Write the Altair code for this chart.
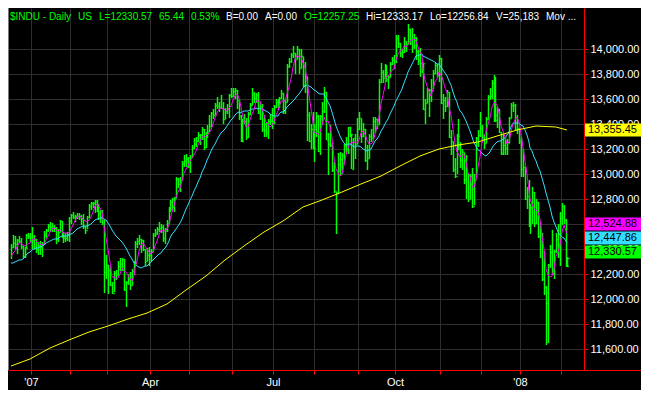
import altair as alt
import pandas as pd

# ---------------- data ----------------
# closes before the first visible bar (Nov 16 - Dec 13, 2006), used only to warm up the moving averages
warmup_close = [12305.82, 12342.56, 12316.54, 12321.59, 12326.95, 12280.17, 12121.71, 12136.45,
                12226.73, 12221.93, 12194.13, 12283.85, 12331.60, 12309.25, 12278.41, 12307.49,
                12328.48, 12315.58, 12317.50]

close_dec06 = [12416.76, 12445.52, 12441.27, 12471.32, 12463.87, 12421.25, 12343.22, 12407.63, 12510.57, 12501.52, 12463.15]
high_dec06 = [12437, 12511, 12502, 12482, 12503, 12485, 12426, 12420, 12521, 12527, 12525]
low_dec06 = [12316, 12405, 12403, 12358, 12452, 12400, 12330, 12330, 12405, 12480, 12458]

close_jan07 = [12474.52, 12480.69, 12398.01, 12423.49, 12416.60, 12442.16, 12514.98, 12556.08, 12582.59, 12577.15,
               12567.93, 12565.53, 12477.16, 12533.80, 12621.77, 12502.56, 12487.02, 12490.78, 12523.31, 12621.69]
high_jan07 = [12580, 12510, 12480, 12460, 12466, 12460, 12541, 12564, 12597, 12614, 12605, 12590, 12578, 12562, 12634, 12622, 12534, 12530, 12538, 12659]
low_jan07 = [12404, 12403, 12365, 12349, 12351, 12339, 12436, 12485, 12538, 12540, 12533, 12534, 12440, 12459, 12533, 12488, 12447, 12458, 12467, 12453]

close_feb07 = [12673.68, 12653.49, 12661.74, 12666.87, 12666.31, 12637.63, 12580.83, 12552.55, 12654.85, 12741.86,
               12765.01, 12767.57, 12786.64, 12738.41, 12686.02, 12647.48, 12632.26, 12216.24, 12268.63]
high_feb07 = [12683, 12695, 12676, 12691, 12691, 12669, 12681, 12588, 12666, 12759, 12775, 12776, 12796, 12789, 12764, 12710, 12715, 12632, 12348]
low_feb07 = [12598, 12641, 12616, 12637, 12634, 12590, 12560, 12518, 12560, 12650, 12715, 12730, 12690, 12700, 12631, 12605, 12590, 12050, 12157]

close_mar07 = [12234.34, 12114.10, 12050.41, 12207.59, 12192.45, 12260.70, 12276.32, 12318.62, 12075.96, 12133.40, 12159.68,
               12110.41, 12226.17, 12288.10, 12447.52, 12461.14, 12481.01, 12469.07, 12397.29, 12300.36, 12348.75, 12354.35]
high_mar07 = [12268, 12260, 12135, 12225, 12233, 12300, 12330, 12330, 12318, 12145, 12200, 12215, 12240, 12300, 12461, 12490, 12510, 12481, 12470, 12397, 12410, 12420]
low_mar07 = [12039, 12100, 12039, 12052, 12149, 12193, 12220, 12220, 12065, 11939, 12110, 12075, 12111, 12195, 12264, 12410, 12435, 12370, 12385, 12265, 12300, 12260]

close_apr07 = [12382.30, 12510.30, 12530.05, 12560.20, 12569.14, 12573.85, 12484.62, 12552.96, 12612.13, 12720.46,
               12773.04, 12803.84, 12808.63, 12961.98, 12919.40, 12953.94, 13089.89, 13105.50, 13120.94, 13062.91]
high_apr07 = [12400, 12530, 12563, 12575, 12615, 12600, 12590, 12570, 12630, 12735, 12790, 12812, 12815, 12979, 12970, 12980, 13105, 13150, 13160, 13140]
low_apr07 = [12300, 12380, 12495, 12510, 12540, 12525, 12460, 12440, 12540, 12612, 12700, 12705, 12700, 12810, 12890, 12860, 12950, 13060, 13060, 13050]

close_may07 = [13136.14, 13211.88, 13241.38, 13264.62, 13312.97, 13309.07, 13362.87, 13215.13, 13326.22, 13346.78, 13383.84,
               13487.53, 13476.72, 13556.53, 13542.88, 13539.95, 13525.65, 13441.13, 13507.28, 13521.34, 13633.08, 13627.64]
high_may07 = [13150, 13230, 13285, 13300, 13335, 13320, 13375, 13365, 13340, 13390, 13470, 13497, 13520, 13566, 13620, 13580, 13630, 13580, 13530, 13560, 13640, 13690]
low_may07 = [13010, 13136, 13200, 13220, 13260, 13230, 13270, 13195, 13210, 13290, 13340, 13380, 13440, 13470, 13520, 13500, 13520, 13400, 13440, 13480, 13450, 13610]

close_jun07 = [13668.11, 13676.32, 13595.46, 13465.67, 13266.73, 13424.39, 13424.96, 13295.01, 13482.35, 13553.73, 13639.48,
               13612.98, 13635.42, 13489.42, 13545.84, 13360.26, 13352.05, 13337.66, 13427.73, 13422.28, 13408.62]
high_jun07 = [13692, 13690, 13676, 13595, 13470, 13440, 13480, 13450, 13500, 13570, 13690, 13660, 13650, 13660, 13580, 13560, 13470, 13420, 13440, 13480, 13530]
low_jun07 = [13620, 13600, 13520, 13430, 13260, 13260, 13400, 13270, 13290, 13470, 13550, 13570, 13570, 13480, 13430, 13340, 13300, 13300, 13280, 13390, 13360]

close_jul07 = [13535.43, 13577.30, 13565.84, 13611.68, 13649.97, 13501.70, 13577.87, 13861.73, 13907.25, 13950.98, 13971.55,
               13918.22, 14000.41, 13851.08, 13943.42, 13716.95, 13785.07, 13473.57, 13265.47, 13358.31, 13211.99]
high_jul07 = [13550, 13600, 13600, 13620, 13670, 13650, 13600, 13880, 13930, 13970, 14022, 13970, 14022, 14000, 14000, 13940, 13900, 13780, 13500, 13400, 13500]
low_jul07 = [13400, 13530, 13510, 13530, 13600, 13480, 13480, 13575, 13850, 13890, 13930, 13800, 13920, 13800, 13850, 13700, 13650, 13262, 13260, 13200, 13200]

close_aug07 = [13362.37, 13463.33, 13181.91, 13468.78, 13504.30, 13657.86, 13270.68, 13239.54, 13236.53, 13028.92, 12861.47, 12845.78,
               13079.08, 13121.35, 13090.86, 13236.13, 13235.88, 13378.87, 13322.13, 13041.85, 13289.29, 13238.73, 13357.74]
high_aug07 = [13400, 13500, 13470, 13470, 13580, 13700, 13660, 13330, 13390, 13250, 13100, 12860, 13170, 13180, 13170, 13240, 13300, 13380, 13380, 13320, 13290, 13320, 13450]
low_aug07 = [13100, 13300, 13180, 13150, 13390, 13490, 13270, 12990, 13220, 13020, 12850, 12517, 12840, 12990, 13000, 13090, 13170, 13160, 13300, 13040, 13040, 13120, 13240]

close_sep07 = [13448.86, 13305.47, 13363.35, 13113.38, 13127.85, 13308.39, 13291.65, 13424.88, 13442.52, 13403.42,
               13739.39, 13815.56, 13766.70, 13820.19, 13759.06, 13778.65, 13878.15, 13912.94, 13895.63]
high_sep07 = [13500, 13440, 13410, 13360, 13230, 13320, 13360, 13460, 13460, 13440, 13760, 13890, 13830, 13880, 13870, 13790, 13900, 13940, 13950]
low_sep07 = [13350, 13250, 13300, 13100, 13030, 13130, 13260, 13290, 13330, 13360, 13400, 13730, 13730, 13770, 13740, 13680, 13780, 13870, 13840]

close_oct07 = [14087.55, 14047.31, 13968.05, 13974.31, 14066.01, 14043.73, 14164.53, 14078.69, 14015.12, 14093.08, 13984.80, 13912.94,
               13892.54, 13888.96, 13522.02, 13566.97, 13676.23, 13675.25, 13671.92, 13806.70, 13870.26, 13792.47, 13930.01]
high_oct07 = [14115, 14115, 14050, 14000, 14100, 14060, 14198, 14165, 14170, 14120, 14100, 13990, 14010, 13900, 13880, 13600, 13690, 13680, 13760, 13830, 13890, 13880, 13950]
low_oct07 = [13890, 14010, 13940, 13930, 13970, 13980, 14040, 14030, 13970, 14000, 13910, 13870, 13780, 13810, 13510, 13400, 13570, 13460, 13580, 13680, 13800, 13780, 13740]

close_nov07 = [13567.87, 13595.10, 13543.40, 13660.94, 13300.02, 13266.29, 13042.74, 12987.55, 13307.09, 13231.01, 13110.05,
               13176.79, 12958.44, 13010.14, 12799.04, 12980.88, 12743.44, 12958.44, 13289.45, 13311.73, 13371.72]
high_nov07 = [13930, 13640, 13620, 13670, 13660, 13350, 13260, 13130, 13320, 13440, 13260, 13200, 13170, 13150, 13000, 13000, 13050, 13000, 13300, 13350, 13500]
low_nov07 = [13560, 13440, 13500, 13540, 13290, 13150, 13020, 12970, 13000, 13190, 13050, 13030, 12920, 12800, 12780, 12800, 12730, 12750, 12970, 13220, 13300]

close_dec07 = [13314.57, 13248.73, 13444.96, 13619.89, 13625.58, 13727.03, 13432.77, 13473.90, 13517.96, 13339.85,
               13167.20, 13232.47, 13207.27, 13245.64, 13450.65, 13549.33, 13551.69, 13359.61, 13365.87, 13264.82]
high_dec07 = [13390, 13310, 13460, 13630, 13690, 13750, 13790, 13780, 13540, 13520, 13340, 13320, 13300, 13280, 13460, 13570, 13580, 13560, 13470, 13370]
low_dec07 = [13270, 13200, 13250, 13440, 13590, 13600, 13420, 13420, 13370, 13330, 13150, 13150, 13150, 13150, 13250, 13450, 13500, 13350, 13320, 13240]

close_jan08 = [13043.96, 13056.72, 12800.18, 12827.49, 12589.07, 12735.31, 12853.09, 12606.30, 12778.15, 12501.11, 12466.16,
               12159.21, 12099.30, 11971.19, 12270.17, 12378.61, 12207.17, 12383.89, 12480.30, 12442.83, 12650.36]
high_jan08 = [13290, 13200, 13060, 12900, 12950, 12760, 12900, 12860, 12800, 12780, 12620, 12530, 12380, 12100, 12280, 12430, 12550, 12390, 12530, 12600, 12700]
low_jan08 = [12980, 12980, 12790, 12720, 12580, 12520, 12600, 12580, 12600, 12490, 12330, 12140, 12030, 11635, 11645, 12250, 12190, 12160, 12370, 12330, 12260]

close_feb08 = [12743.19, 12635.16, 12265.13, 12330.57]
high_feb08 = [12770, 12750, 12640, 12333]
low_feb08 = [12590, 12600, 12252, 12257]

# 200-day moving average (bar index, value)
ma200_idx = [0, 10, 20, 30, 40, 50, 60, 70, 80, 90, 100, 110, 120, 130, 140, 150, 160, 170, 180, 190,
             200, 210, 220, 230, 240, 250, 260, 270, 280, 286]
ma200_val = [11462, 11523, 11604, 11669, 11738, 11784, 11838, 11888, 11960, 12068, 12183, 12313, 12428, 12535, 12627,
             12735, 12796, 12857, 12919, 12988, 13065, 13141, 13203, 13233, 13256, 13302, 13356, 13387, 13375, 13355.45]

# month tick labels (one per month boundary, Jan 07 .. Feb 08)
month_tick_labels = ["'07", "", "", "Apr", "", "", "Jul", "", "", "Oct", "", "", "'08", ""]

# right-hand price tags: last values of 200-day, 5-day, 20-day, last price
tag_values = [13355.45, 12524.88, 12447.86, 12330.57]

# header text
header_texts = ["$INDU - Daily", "US", "L=12330.57", "65.44", "0.53%", "B=0.00", "A=0.00",
                "O=12257.25", "Hi=12333.17", "Lo=12256.84", "V=25,183", "Mov ..."]

y_ticks = [11600, 11800, 12000, 12200, 12400, 12600, 12800, 13000, 13200, 13400, 13600, 13800, 14000]

# ---------------- styles / layout ----------------
GREEN = "#00ff00"
MAGENTA = "#ff00ff"
CYAN = "#33ddff"
YELLOW = "#ffff00"
RED = "#ff0000"
GRID = "#2e2e2e"
FONT = "Liberation Sans"
W, H = 576, 362
header_x = [2, 70, 91, 151, 183, 218, 257, 296, 358, 422, 488, 538]
header_colors = [GREEN, GREEN, GREEN, GREEN, GREEN, "white", "white", GREEN, "white", "white", "white", "white"]
tag_colors = [YELLOW, MAGENTA, CYAN, GREEN]
tag_offsets = [0, -9, -5, -6]

months = [
    (close_dec06, high_dec06, low_dec06), (close_jan07, high_jan07, low_jan07),
    (close_feb07, high_feb07, low_feb07), (close_mar07, high_mar07, low_mar07),
    (close_apr07, high_apr07, low_apr07), (close_may07, high_may07, low_may07),
    (close_jun07, high_jun07, low_jun07), (close_jul07, high_jul07, low_jul07),
    (close_aug07, high_aug07, low_aug07), (close_sep07, high_sep07, low_sep07),
    (close_oct07, high_oct07, low_oct07), (close_nov07, high_nov07, low_nov07),
    (close_dec07, high_dec07, low_dec07), (close_jan08, high_jan08, low_jan08),
    (close_feb08, high_feb08, low_feb08),
]

rows, tick_vals = [], []
i = 0
for k, (c, h, l) in enumerate(months):
    if k > 0:
        tick_vals.append(i - 0.5)
    for cc, hh, ll in zip(c, h, l):
        rows.append({"i": i, "close": cc, "high": hh, "low": ll})
        i += 1
price = pd.DataFrame(rows)
ma_df = pd.DataFrame({"i": list(range(-len(warmup_close), len(price))),
                      "close": warmup_close + list(price["close"])})
ma200 = pd.DataFrame({"i": ma200_idx, "v": ma200_val})

expr = "''"
for v, lab in reversed(list(zip(tick_vals, month_tick_labels))):
    expr = f'datum.value == {v} ? "{lab}" : {expr}'

xs = alt.Scale(domain=[-1.5, 294.5], nice=False, zero=False, round=True)
ys = alt.Scale(domain=[11431, 14330], nice=False, zero=False, round=True)
xaxis = alt.Axis(values=tick_vals, labelExpr=expr, title=None, grid=True, gridColor=GRID,
                 domainColor=RED, tickColor=RED, tickSize=4, labelColor="white", labelFontSize=11,
                 labelFont=FONT, labelPadding=2, labelFlush=False, labelOverlap=False)
yaxis = alt.Axis(orient="right", values=y_ticks, format=",.2f", title=None, grid=True, gridColor=GRID,
                 domainColor=RED, tickColor=RED, tickSize=4, labelColor="white", labelFontSize=11,
                 labelFont=FONT, labelPadding=2, labelOverlap=False)


def X(f):
    return alt.X(f, scale=xs, axis=xaxis)


def Y(f):
    return alt.Y(f, scale=ys, axis=yaxis)


bars = alt.Chart(price).mark_rule(color=GREEN, strokeWidth=1.5, xOffset=0.5).encode(
    x=X("i:Q"), y=Y("low:Q"), y2="high:Q")
closes = alt.Chart(price).mark_tick(color=GREEN, orient="horizontal", size=2, thickness=1.5,
                                    xOffset=2, yOffset=0.5).encode(x=X("i:Q"), y=Y("close:Q"))

ma_base = alt.Chart(ma_df).transform_window(
    ma5="mean(close)", frame=[-4, 0], sort=[alt.SortField("i")]
).transform_window(
    ma20="mean(close)", frame=[-19, 0], sort=[alt.SortField("i")]
).transform_filter("datum.i >= 0")
cyan = ma_base.mark_line(color=CYAN, strokeWidth=1).encode(x=X("i:Q"), y=Y("ma20:Q"))
magenta = ma_base.mark_line(color=MAGENTA, strokeWidth=1).encode(x=X("i:Q"), y=Y("ma5:Q"))
yellow = alt.Chart(ma200).mark_line(color=YELLOW, strokeWidth=1).encode(x=X("i:Q"), y=Y("v:Q"))

one = pd.DataFrame({"a": [0]})
left_border = alt.Chart(one).mark_rule(color="#7a7a7a").encode(
    x=alt.value(0.5), y=alt.value(0), y2=alt.value(H))
axis_ext = alt.Chart(one).mark_rule(color=RED).encode(
    x=alt.value(W), x2=alt.value(W + 60), y=alt.value(H + 0.5))

header = alt.Chart(pd.DataFrame({"t": header_texts, "px": header_x, "c": header_colors})).mark_text(
    align="left", baseline="middle", font=FONT, fontSize=10).encode(
    x=alt.X("px:Q", scale=None), y=alt.value(9), text="t:N", color=alt.Color("c:N", scale=None))

tags = []
for v, col, off in zip(tag_values, tag_colors, tag_offsets):
    d = pd.DataFrame({"v": [v], "t": [f"{v:,.2f}"]})
    tags.append(alt.Chart(d).mark_rule(color=col, strokeWidth=13, yOffset=off).encode(
        x=alt.value(W + 1), x2=alt.value(W + 58), y=Y("v:Q")))
    tags.append(alt.Chart(d).mark_text(align="left", baseline="middle", font=FONT, fontSize=11,
                                       color="black", yOffset=off).encode(
        x=alt.value(W + 4), y=Y("v:Q"), text="t:N"))

chart = alt.layer(left_border, bars, closes, cyan, magenta, yellow, header, axis_ext, *tags).properties(
    width=W, height=H,
    autosize=alt.AutoSizeParams(type="none"),
    padding={"left": 0, "top": 0, "right": 57, "bottom": 20},
).configure(background="#000000").configure_view(stroke=None)

chart.save("out.html", embed_options={"renderer": "svg", "actions": False})
